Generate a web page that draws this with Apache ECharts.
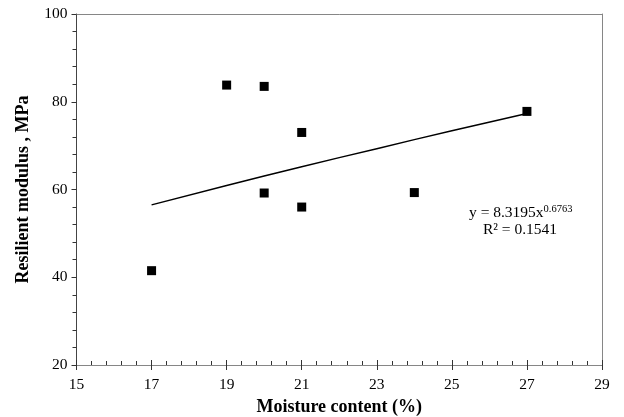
<!DOCTYPE html>
<html><head><meta charset="utf-8">
<script src="https://cdn.jsdelivr.net/npm/echarts@6/dist/echarts.min.js"></script>
<style>html,body{margin:0;padding:0;background:#fff}#c{width:624px;height:417px}</style>
</head><body><div id="c"></div>
<script>
var moisture = [17, 19, 20, 21, 20, 21, 24, 27];
var modulus = [41.5, 83.8, 83.5, 73.0, 59.2, 56.0, 59.3, 77.8];
var trendX = [17, 19, 21, 23, 25, 27];
var trendY = [56.5, 60.9, 65.2, 69.3, 73.4, 77.3];
var xTicks = [15, 17, 19, 21, 23, 25, 27, 29];
var yTicks = [20, 40, 60, 80, 100];

var font = '"Liberation Serif","Times New Roman",serif';
var chart = echarts.init(document.getElementById('c'));
var pts = moisture.map(function(x, i){ return [x, modulus[i]]; });
var tr = trendX.map(function(x, i){ return [x, trendY[i]]; });
var axisCol = '#868686';
var tickCol = '#333';
var xmin = xTicks[0], xmax = xTicks[xTicks.length-1];
var ymin = yTicks[0], ymax = yTicks[yTicks.length-1];
chart.setOption({
  animation: false,
  grid: {left: 76.5, right: 22, top: 14, bottom: 52, show: false, containLabel: false, outerBoundsMode: 'none'},
  xAxis: [{
    type: 'value', min: xmin, max: xmax, interval: 2,
    name: 'Moisture content (%)', nameLocation: 'middle', nameGap: 31,
    nameTextStyle: {fontFamily: font, fontSize: 18, fontWeight: 'bold', color: '#000'},
    axisLine: {show: true, lineStyle: {color: axisCol, width: 1}},
    axisTick: {show: true, inside: false, length: 5, lineStyle: {color: tickCol}},
    minorTick: {show: false},
    axisLabel: {fontFamily: font, fontSize: 15.5, color: '#000', margin: 12},
    splitLine: {show: false}
  }, {
    type: 'value', min: xmin, max: xmax, interval: 2, position: 'bottom',
    axisLine: {show: false},
    axisTick: {show: true, inside: true, length: 5, lineStyle: {color: tickCol}},
    minorTick: {show: true, splitNumber: 5, length: 4, lineStyle: {color: tickCol}},
    axisLabel: {show: false}, splitLine: {show: false}
  }, {
    type: 'value', min: xmin, max: xmax, position: 'top',
    axisLine: {show: true, lineStyle: {color: axisCol}},
    axisTick: {show: false}, axisLabel: {show: false}, splitLine: {show: false}
  }],
  yAxis: [{
    type: 'value', min: ymin, max: ymax, interval: 20,
    name: 'Resilient modulus , MPa', nameLocation: 'middle', nameGap: 44,
    nameTextStyle: {fontFamily: font, fontSize: 18, fontWeight: 'bold', color: '#000'},
    axisLine: {show: true, lineStyle: {color: '#444', width: 1}},
    axisTick: {show: true, inside: false, length: 5, lineStyle: {color: tickCol}},
    minorTick: {show: false},
    axisLabel: {fontFamily: font, fontSize: 15.5, color: '#000', margin: 9},
    splitLine: {show: false}
  }, {
    type: 'value', min: ymin, max: ymax, position: 'right',
    axisLine: {show: true, lineStyle: {color: axisCol}},
    axisTick: {show: false}, axisLabel: {show: false}, splitLine: {show: false}
  }, {
    type: 'value', min: ymin, max: ymax, interval: 20, position: 'left', offset: 0,
    axisLine: {show: false},
    axisTick: {show: false},
    minorTick: {show: true, splitNumber: 5, length: 4, lineStyle: {color: tickCol}},
    axisLabel: {show: false}, splitLine: {show: false}
  }],
  series: [{
    type: 'line', data: tr, showSymbol: false, symbol: 'none', smooth: true,
    lineStyle: {color: '#000', width: 1.5}, z: 2
  }, {
    type: 'scatter', data: pts, symbol: 'rect', symbolSize: 9,
    itemStyle: {color: '#000', opacity: 1}, z: 3
  }],
  graphic: [{
    type: 'text', left: 469, top: 204,
    style: {
      rich: {
        a: {fontFamily: font, fontSize: 15.5, fill: '#000', verticalAlign: 'bottom', lineHeight: 17},
        s: {fontFamily: font, fontSize: 10.5, fill: '#000', verticalAlign: 'top', lineHeight: 17}
      },
      text: '{a|y = 8.3195x}{s|0.6763}'
    }
  }, {
    type: 'text', left: 483, top: 222,
    style: {text: 'R² = 0.1541', fontFamily: font, fontSize: 15.5, fill: '#000'}
  }]
});
</script></body></html>
